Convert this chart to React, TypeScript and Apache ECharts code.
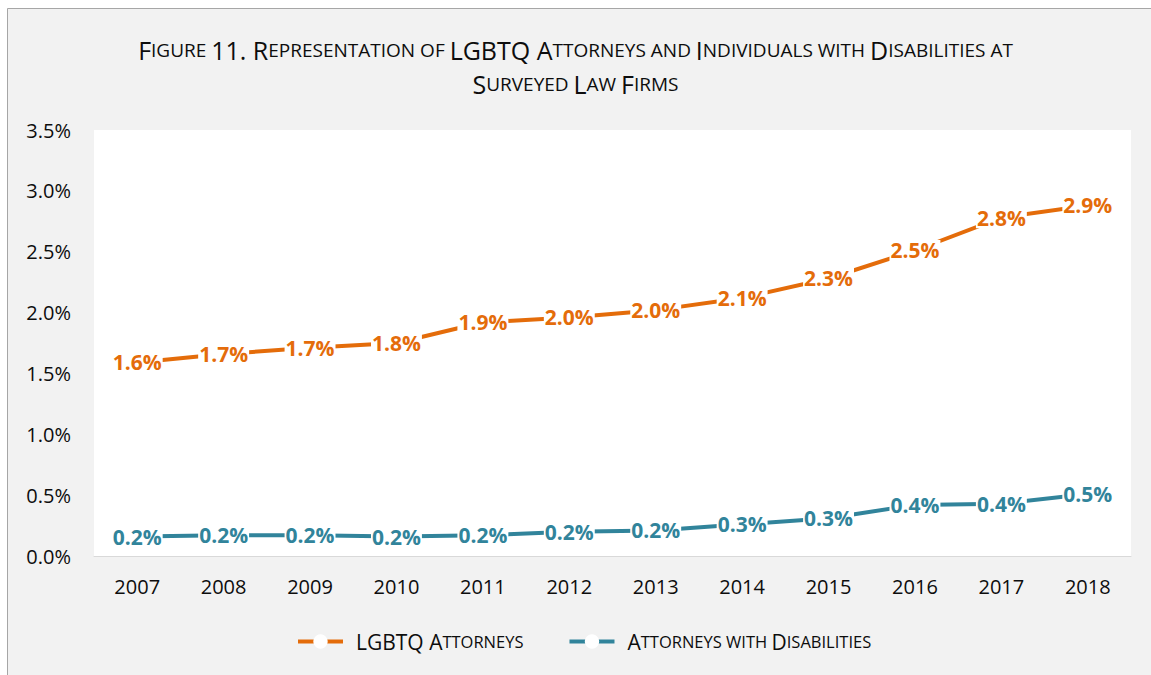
import React, { useEffect, useRef } from "react";
import * as echarts from "echarts";

const years = ["2007", "2008", "2009", "2010", "2011", "2012", "2013", "2014", "2015", "2016", "2017", "2018"];
const lgbtq = [1.59, 1.66, 1.71, 1.75, 1.92, 1.96, 2.02, 2.12, 2.28, 2.51, 2.78, 2.88];
const disab = [0.16, 0.17, 0.17, 0.16, 0.17, 0.2, 0.21, 0.26, 0.31, 0.42, 0.43, 0.51];
const seriesNames = ["LGBTQ Attorneys", "Attorneys with Disabilities"];
const titleLines = [
  "Figure 11. Representation of LGBTQ Attorneys and Individuals with Disabilities at",
  "Surveyed Law Firms",
];

const ORANGE = "#E46C0A";
const TEAL = "#31849B";
const FONT = "Open Sans";

function smallCaps(str: string, big: string, small: string): string {
  let out = "";
  let cur = "";
  let curStyle = "";
  const flush = () => {
    if (cur) out += `{${curStyle}|${cur}}`;
    cur = "";
  };
  for (const ch of str) {
    let st: string;
    let c = ch;
    if (ch === " ") {
      st = curStyle || big;
    } else if (ch >= "a" && ch <= "z") {
      st = small;
      c = ch.toUpperCase();
    } else {
      st = big;
    }
    if (st !== curStyle) {
      flush();
      curStyle = st;
    }
    cur += c;
  }
  flush();
  return out;
}

export default function App() {
  const ref = useRef<HTMLDivElement>(null);
  useEffect(() => {
    if (!ref.current) return;
    const chart = echarts.init(ref.current, null, { renderer: "svg" });
    const labelCommon = {
      show: true,
      position: "inside" as const,
      fontFamily: FONT,
      fontWeight: "bold" as const,
      fontSize: 21,
      backgroundColor: "#fff",
      padding: [0, 1, 0, 1],
      formatter: (p: any) => `${Number(p.value).toFixed(1)}%`,
    };
    chart.setOption({
      animation: false,
      graphic: [
        {
          type: "rect",
          silent: true,
          z: -10,
          shape: { x: 7.5, y: 8.5, width: 1300, height: 800 },
          style: { fill: "#f2f2f2", stroke: "#a6a6a6", lineWidth: 1 },
        },
      ],
      title: {
        text: titleLines.map((l) => smallCaps(l, "b", "s")).join("\n"),
        left: "center",
        top: 28,
        textStyle: {
          fontWeight: "normal",
          rich: {
            b: { fontFamily: FONT, fontSize: 25, fontWeight: "normal", color: "#0d0d0d", lineHeight: 34 },
            s: { fontFamily: FONT, fontSize: 19, fontWeight: "normal", color: "#0d0d0d", lineHeight: 34 },
          },
        },
      },
      grid: {
        left: 94,
        right: 20,
        top: 130,
        bottom: 119,
        show: true,
        backgroundColor: "#ffffff",
        borderWidth: 0,
      },
      legend: {
        bottom: 18,
        left: 291,
        itemWidth: 45,
        itemHeight: 18,
        itemGap: 44,
        lineStyle: { width: 4 },
        formatter: (name: string) => smallCaps(name, "b", "s"),
        textStyle: {
          padding: [0, 0, 0, 8],
          rich: {
            b: { fontFamily: FONT, fontSize: 21, color: "#0d0d0d" },
            s: { fontFamily: FONT, fontSize: 16.5, color: "#0d0d0d" },
          },
        },
        data: seriesNames,
      },
      xAxis: {
        type: "category",
        data: years,
        boundaryGap: true,
        axisLine: { lineStyle: { color: "#d9d9d9", width: 1 } },
        axisTick: { show: false },
        axisLabel: { fontFamily: FONT, fontSize: 20, color: "#0d0d0d", margin: 20 },
      },
      yAxis: {
        type: "value",
        min: 0,
        max: 3.5,
        interval: 0.5,
        axisLine: { show: false },
        axisTick: { show: false },
        splitLine: { show: false },
        axisLabel: {
          fontFamily: FONT,
          fontSize: 20,
          color: "#0d0d0d",
          margin: 23,
          formatter: (v: number) => `${v.toFixed(1)}%`,
        },
      },
      series: [
        {
          name: seriesNames[0],
          type: "line",
          data: lgbtq,
          symbol: "circle",
          symbolSize: 13,
          lineStyle: { color: ORANGE, width: 4 },
          itemStyle: { color: "#ffffff", borderWidth: 0 },
          label: { ...labelCommon, color: ORANGE },
        },
        {
          name: seriesNames[1],
          type: "line",
          data: disab,
          symbol: "circle",
          symbolSize: 13,
          lineStyle: { color: TEAL, width: 4 },
          itemStyle: { color: "#ffffff", borderWidth: 0 },
          label: { ...labelCommon, color: TEAL },
        },
      ],
    });
    return () => chart.dispose();
  }, []);
  return (
    <div
      ref={ref}
      style={{ position: "absolute", left: 0, top: 0, width: 1151, height: 675 }}
    />
  );
}
